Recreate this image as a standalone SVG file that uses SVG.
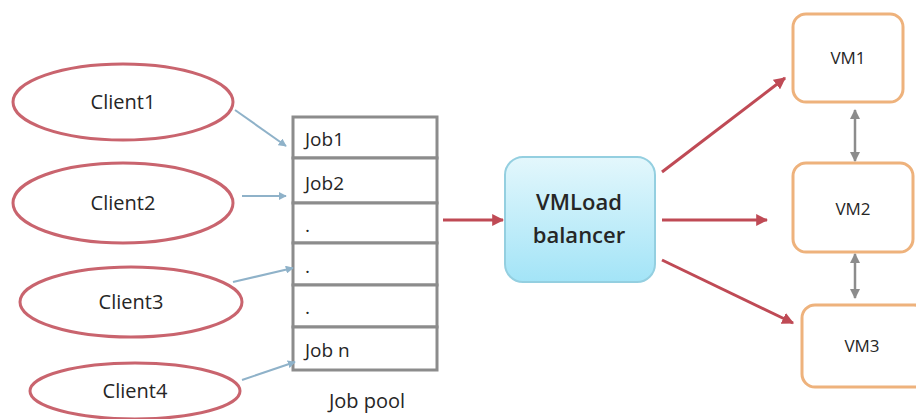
<svg xmlns="http://www.w3.org/2000/svg" width="916" height="419" viewBox="0 0 916 419">
<style>
.client{fill:#fff;stroke:#c9646e;stroke-width:3}
.t{font-family:"Open Sans","Liberation Sans",sans-serif;fill:#262626;text-anchor:middle}
.ct{font-size:20px}
.jt{font-size:19px;text-anchor:start}
.cell{fill:#fff;stroke:#8c8c8c;stroke-width:3}
.vm{fill:#fff;stroke:#eeb27c;stroke-width:3}
.vt{font-size:17px}
.blue{stroke:#8fb2c9;stroke-width:2;fill:none}
.red{stroke:#bf4a55;stroke-width:3;fill:none}
.gray{stroke:#8c8c8c;stroke-width:2.5;fill:none}
</style>
<defs>
<linearGradient id="lb" x1="0" y1="0" x2="0" y2="1">
<stop offset="0" stop-color="#e3f7fc"/>
<stop offset="1" stop-color="#a3e4f7"/>
</linearGradient>
<marker id="ab" viewBox="0 0 10 10" refX="9" refY="5" markerWidth="4" markerHeight="4" orient="auto"><path d="M0,0 L10,5 L0,10 z" fill="#8fb2c9"/></marker>
<marker id="ar" viewBox="0 0 10 10" refX="9" refY="5" markerWidth="4" markerHeight="4" orient="auto"><path d="M0,0 L10,5 L0,10 z" fill="#bf4a55"/></marker>
<marker id="ag" viewBox="0 0 10 10" refX="9" refY="5" markerWidth="4" markerHeight="4" orient="auto-start-reverse"><path d="M0,0 L10,5 L0,10 z" fill="#8c8c8c"/></marker>
</defs>
<g id="client1"><ellipse class="client" cx="123" cy="102" rx="110" ry="38"/><text class="t ct" x="123" y="109">Client1</text></g>
<g id="client2"><ellipse class="client" cx="123" cy="203" rx="110" ry="40"/><text class="t ct" x="123" y="210">Client2</text></g>
<g id="client3"><ellipse class="client" cx="131" cy="302" rx="111" ry="35"/><text class="t ct" x="131" y="309">Client3</text></g>
<g id="client4"><ellipse class="client" cx="135" cy="391" rx="105" ry="28"/><text class="t ct" x="135" y="398">Client4</text></g>
<g id="jobpool">
<rect class="cell" x="293" y="117" width="144" height="41"/>
<rect class="cell" x="293" y="158" width="144" height="45"/>
<rect class="cell" x="293" y="203" width="144" height="40"/>
<rect class="cell" x="293" y="243" width="144" height="42"/>
<rect class="cell" x="293" y="285" width="144" height="42"/>
<rect class="cell" x="293" y="327" width="144" height="43"/>
<text class="t jt" x="305" y="146">Job1</text>
<text class="t jt" x="305" y="190">Job2</text>
<text class="t jt" x="305" y="232">.</text>
<text class="t jt" x="305" y="273">.</text>
<text class="t jt" x="305" y="314">.</text>
<text class="t jt" x="305" y="357">Job n</text>
<text class="t ct" x="367" y="408">Job pool</text>
</g>
<g id="balancer"><rect x="505" y="157" width="150" height="125" rx="18" fill="url(#lb)" stroke="#94cfe0" stroke-width="2"/>
<text class="t" x="579" y="210" font-size="22" font-weight="600">VMLoad</text>
<text class="t" x="579" y="243" font-size="22" font-weight="600">balancer</text></g>
<g id="vm1"><rect class="vm" x="793" y="14" width="110" height="88" rx="13"/><text class="t vt" x="848" y="64">VM1</text></g>
<g id="vm2"><rect class="vm" x="793" y="163" width="120" height="89" rx="13"/><text class="t vt" x="853" y="215">VM2</text></g>
<g id="vm3"><rect class="vm" x="802" y="305" width="125" height="82" rx="13"/><text class="t vt" x="862" y="352">VM3</text></g>
<g id="connectors">
<line class="blue" x1="235" y1="110" x2="286" y2="146" marker-end="url(#ab)"/>
<line class="blue" x1="242" y1="196" x2="286" y2="196" marker-end="url(#ab)"/>
<line class="blue" x1="233" y1="282" x2="293" y2="268" marker-end="url(#ab)"/>
<line class="blue" x1="242" y1="380" x2="295" y2="362" marker-end="url(#ab)"/>
<line class="red" x1="443" y1="220" x2="503" y2="220" marker-end="url(#ar)"/>
<line class="red" x1="662" y1="172" x2="785" y2="78" marker-end="url(#ar)"/>
<line class="red" x1="662" y1="220" x2="767" y2="220" marker-end="url(#ar)"/>
<line class="red" x1="662" y1="260" x2="793" y2="323" marker-end="url(#ar)"/>
<line class="gray" x1="855" y1="110" x2="855" y2="161" marker-start="url(#ag)" marker-end="url(#ag)"/>
<line class="gray" x1="855" y1="254" x2="855" y2="298" marker-start="url(#ag)" marker-end="url(#ag)"/>
</g>
</svg>
